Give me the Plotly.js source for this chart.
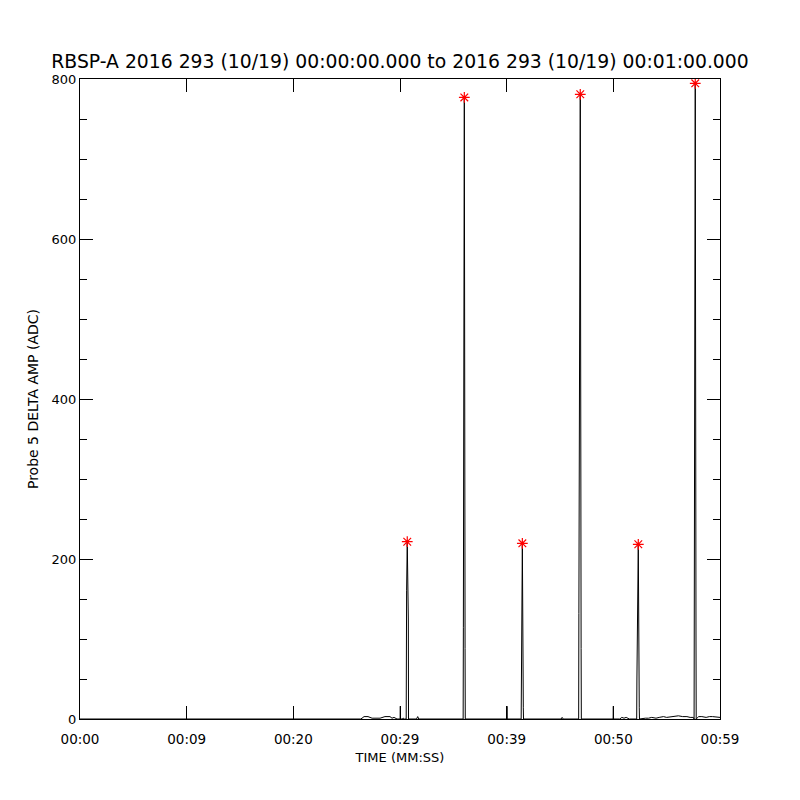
<!DOCTYPE html>
<html>
<head>
<meta charset="utf-8">
<script src="https://cdn.plot.ly/plotly-3.0.1.min.js"></script>
<style>
html,body{margin:0;padding:0;background:#fff;}
#chart{width:800px;height:800px;}
</style>
</head>
<body>
<div id="chart"></div>
<script>
// Time in seconds from 00:00:00.000, amplitude in ADC units
const timeSec = [
  0, 26.3, 26.44, 26.63, 27.0, 27.19, 27.38, 28.13, 28.41, 28.59, 29.06, 29.25, 29.44, 29.72,
  30.01, 30.03, 30.05,
  30.2, 30.3, 30.4,
  30.58, 30.62, 30.68, 30.78, 30.8,
  31.55, 31.66, 31.76,
  35.92, 35.94, 36.0, 36.03, 36.1, 36.12,
  40.01, 40.03, 40.05,
  41.36, 41.38, 41.44, 41.47, 41.56, 41.58,
  45.1, 45.2, 45.3,
  46.75, 46.77, 46.86, 46.9, 46.98, 47.0,
  49.98, 50.0, 50.02,
  50.6, 50.8, 51.0, 51.2, 51.5,
  52.19, 52.21, 52.3, 52.34, 52.43, 52.45,
  53.0, 53.3, 53.6, 54.0, 54.3, 54.7, 55.0, 55.4, 55.8, 56.1, 56.5, 56.9, 57.2, 57.5,
  57.57, 57.59, 57.65, 57.68, 57.75, 57.77,
  58.0, 58.3, 58.7, 59.0, 59.3, 59.7, 59.85, 60
];
const ampADC = [
  0, 0, 1, 3, 3, 2, 1, 1, 2, 3, 3, 1, 2, 0,
  0, 16, 0,
  0, 1, 0,
  0, 161, 222, 125, 0,
  0, 3, 0,
  0, 114, 500, 777, 88, 0,
  0, 16, 0,
  0, 50, 124, 220, 14, 0,
  0, 2, 0,
  0, 132, 575, 781, 88, 0,
  0, 16, 0,
  0, 2, 1, 2, 0,
  0, 50, 159, 218, 14, 0,
  1, 1, 2, 1, 2, 3, 2, 3, 4, 4, 3, 3, 2, 2,
  0, 140, 540, 795, 100, 0,
  3, 3, 2, 3, 3, 2, 2, 2
];
// Detected peaks (red asterisks)
const peakTime = [30.68, 36.03, 41.47, 46.9, 52.34, 57.68];
const peakAmp  = [221.6, 777, 219.6, 780.9, 218.4, 794.6];
// Axis tick labels
const xTickVals = [0, 10, 20, 30, 40, 50, 60];
const xTickText = ['00:00', '00:09', '00:20', '00:29', '00:39', '00:50', '00:59'];
const yTickVals = [0, 200, 400, 600, 800];

const FONT = 'DejaVu Sans, Liberation Sans, sans-serif';

const traces = [
  {
    x: timeSec, y: ampADC, type: 'scatter', mode: 'lines',
    line: {color: '#000', width: 1}, hoverinfo: 'skip'
  },
  {
    x: peakTime, y: peakAmp, type: 'scatter', mode: 'markers',
    marker: {symbol: 'asterisk-open', size: 9, color: '#ff0000', line: {color: '#ff0000', width: 1.2}},
    cliponaxis: false
  }
];

const layout = {
  width: 800, height: 800,
  margin: {l: 80, r: 80, t: 79, b: 81},
  paper_bgcolor: '#fff', plot_bgcolor: '#fff',
  showlegend: false,
  font: {family: FONT, size: 13, color: '#000'},
  title: {
    text: 'RBSP-A 2016 293 (10/19) 00:00:00.000 to 2016 293 (10/19) 00:01:00.000',
    font: {family: FONT, size: 18.8, color: '#000'},
    x: 0.5, xanchor: 'center', xref: 'paper',
    y: 1 - 61/800, yref: 'container', yanchor: 'middle'
  },
  xaxis: {
    range: [0, 60], showgrid: false, zeroline: false,
    showline: true, linecolor: '#000', linewidth: 1, mirror: 'ticks',
    ticks: 'inside', ticklen: 13, tickcolor: '#000', tickwidth: 1,
    tickmode: 'array', tickvals: xTickVals, ticktext: xTickText,
    ticklabelstandoff: 8,
    tickfont: {family: FONT, size: 13.5, color: '#000'},
    title: {text: 'TIME (MM:SS)', font: {family: FONT, size: 13, color: '#000'}, standoff: 6}
  },
  yaxis: {
    range: [0, 800], showgrid: false, zeroline: false,
    showline: true, linecolor: '#000', linewidth: 1, mirror: 'ticks',
    ticks: 'inside', ticklen: 13, tickcolor: '#000', tickwidth: 1,
    tickmode: 'array', tickvals: yTickVals,
    tickfont: {family: FONT, size: 13, color: '#000'},
    minor: {ticks: 'inside', ticklen: 7, dtick: 50, tickcolor: '#000', tickwidth: 1, showgrid: false},
    title: {text: 'Probe 5 DELTA AMP (ADC)', font: {family: FONT, size: 14, color: '#000'}, standoff: 9}
  }
};

Plotly.newPlot('chart', traces, layout, {displayModeBar: false, staticPlot: true});
</script>
</body>
</html>
